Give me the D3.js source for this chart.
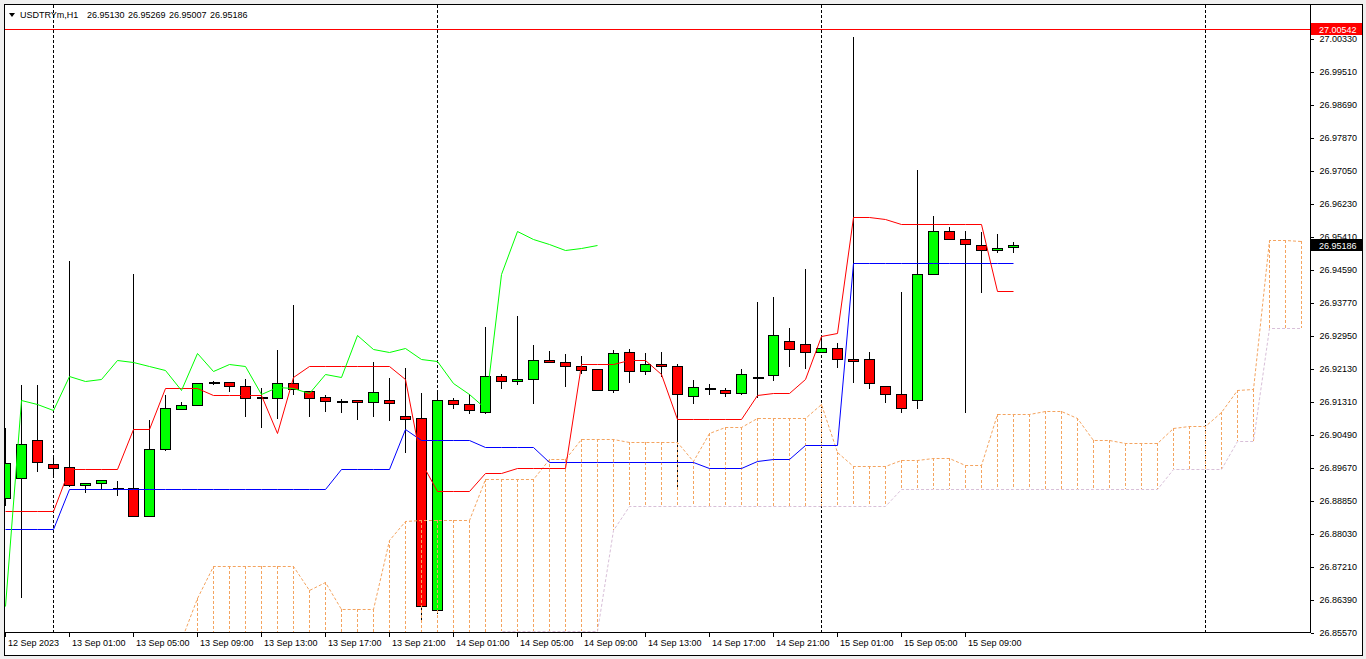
<!DOCTYPE html>
<html><head><meta charset="utf-8">
<script src="https://cdn.jsdelivr.net/npm/d3@7"></script>
<style>
html,body{margin:0;padding:0;background:#f0f0f0;overflow:hidden}
svg{display:block}
text{font-family:"Liberation Sans",Arial,sans-serif;font-size:9px;fill:#000}
</style></head><body>
<svg id="c" width="1366" height="659"></svg>
<script>
// ---------------- DATA ----------------
const symbolTitle = "USDTRYm,H1";
const headerOHLC = ["26.95130","26.95269","26.95007","26.95186"];
const timeLabels = ["12 Sep 2023","13 Sep 01:00","13 Sep 05:00","13 Sep 09:00","13 Sep 13:00","13 Sep 17:00","13 Sep 21:00","14 Sep 01:00","14 Sep 05:00","14 Sep 09:00","14 Sep 13:00","14 Sep 17:00","14 Sep 21:00","15 Sep 01:00","15 Sep 05:00","15 Sep 09:00"];
const timeLabelEvery = 4;               // one label every 4 hourly bars
const priceTicks = ["26.85570","26.86390","26.87210","26.88030","26.88850","26.89670","26.90490","26.91310","26.92130","26.92950","26.93770","26.94590","26.95410","26.96230","26.97050","26.97870","26.98690","26.99510","27.00330"];
const daySeparators = [3, 27, 51, 75];  // bar index of each day start
const redLevel = 27.00542;
const lastPrice = 26.95186;

const open  = [26.88900,26.89397,26.90341,26.89745,26.89670,26.89223,26.89272,26.89160,26.89148,26.88452,26.90117,26.91111,26.91211,26.91770,26.91782,26.91683,26.91397,26.91384,26.91757,26.91558,26.91409,26.91322,26.91335,26.91285,26.91335,26.90937,26.90887,26.86117,26.91335,26.91235,26.91037,26.91931,26.91807,26.91857,26.92329,26.92279,26.92180,26.92105,26.91583,26.92527,26.92055,26.92229,26.92180,26.91434,26.91621,26.91583,26.91509,26.91906,26.91956,26.92801,26.92726,26.92527,26.92627,26.92354,26.92354,26.91683,26.91484,26.91335,26.94466,26.95534,26.95335,26.95186,26.95062,26.95130];
const high  = [26.90639,26.91708,26.91708,26.89894,26.94789,26.89272,26.89347,26.89322,26.94466,26.90838,26.91459,26.91285,26.91757,26.91807,26.91782,26.91857,26.91633,26.92577,26.93695,26.91558,26.91459,26.91360,26.91335,26.92279,26.91881,26.92130,26.91509,26.91583,26.91384,26.91484,26.93149,26.91981,26.93422,26.92701,26.92552,26.92478,26.92428,26.92105,26.92577,26.92602,26.92503,26.92527,26.92229,26.91832,26.91732,26.91633,26.92105,26.93770,26.93894,26.93124,26.94590,26.92900,26.92751,27.00355,26.92527,26.91683,26.94018,26.97050,26.95907,26.95633,26.95534,26.95509,26.95460,26.95269];
const low   = [26.88726,26.86440,26.89571,26.89421,26.89198,26.89049,26.89123,26.88974,26.88452,26.88452,26.90092,26.91111,26.91211,26.91732,26.91558,26.90937,26.90664,26.90887,26.91484,26.90937,26.91061,26.91037,26.90863,26.90937,26.90838,26.90043,26.85868,26.86042,26.91136,26.91012,26.91012,26.91633,26.91732,26.91260,26.92279,26.91683,26.92006,26.91583,26.91534,26.91782,26.91981,26.91931,26.89148,26.91260,26.91484,26.91434,26.91484,26.91409,26.91832,26.92180,26.92130,26.92527,26.92155,26.91782,26.91633,26.91285,26.91037,26.91136,26.94466,26.95335,26.91037,26.94018,26.95012,26.95007];
const close = [26.89757,26.90241,26.89794,26.89645,26.89223,26.89272,26.89347,26.89160,26.88452,26.90117,26.91136,26.91211,26.91757,26.91770,26.91683,26.91384,26.91397,26.91757,26.91608,26.91384,26.91310,26.91322,26.91285,26.91534,26.91260,26.90863,26.86216,26.91335,26.91235,26.91086,26.91931,26.91807,26.91857,26.92329,26.92279,26.92180,26.92080,26.91583,26.92503,26.92055,26.92229,26.92180,26.91484,26.91658,26.91621,26.91509,26.91981,26.91906,26.92950,26.92602,26.92527,26.92627,26.92354,26.92304,26.91757,26.91484,26.91136,26.94466,26.95534,26.95335,26.95211,26.95062,26.95112,26.95186];

const tenkan = [26.88577,26.88577,26.88577,26.88577,26.89620,26.89620,26.89620,26.89620,26.90614,26.90614,26.91621,26.91621,26.91621,26.91459,26.91459,26.91459,26.91459,26.90515,26.91894,26.92180,26.92180,26.92180,26.92180,26.92180,26.92180,26.91869,26.89782,26.89074,26.89074,26.89074,26.89509,26.89509,26.89645,26.89645,26.89645,26.89645,26.92217,26.92217,26.92217,26.92341,26.92341,26.91981,26.90875,26.90875,26.90875,26.90875,26.90875,26.91459,26.91521,26.91521,26.91869,26.92925,26.93000,26.95882,26.95882,26.95820,26.95696,26.95696,26.95696,26.95696,26.95696,26.95696,26.94043,26.94043];
const kijun  = [26.88129,26.88129,26.88129,26.88129,26.89123,26.89123,26.89123,26.89123,26.89123,26.89123,26.89123,26.89123,26.89123,26.89123,26.89123,26.89123,26.89123,26.89123,26.89123,26.89123,26.89123,26.89620,26.89620,26.89620,26.89620,26.90614,26.90329,26.90329,26.90329,26.90329,26.90167,26.90167,26.90167,26.90167,26.89782,26.89782,26.89782,26.89782,26.89782,26.89782,26.89782,26.89782,26.89782,26.89782,26.89645,26.89645,26.89645,26.89819,26.89881,26.89881,26.90229,26.90229,26.90229,26.94751,26.94751,26.94751,26.94751,26.94751,26.94751,26.94751,26.94751,26.94751,26.94751,26.94751];
const chikouShift = 26;   // chikou span = close plotted 26 bars back

const cloudStart = 11;    // bar index of first cloud value
const spanA = [26.85371,26.86415,26.87210,26.87210,26.87210,26.87210,26.87210,26.87210,26.86614,26.86812,26.86142,26.86142,26.86142,26.87856,26.88328,26.88353,26.88353,26.88353,26.88353,26.89372,26.89372,26.89372,26.89372,26.89869,26.89869,26.90372,26.90372,26.90372,26.90291,26.90291,26.90291,26.90291,26.89819,26.90509,26.90652,26.90652,26.90900,26.90900,26.90900,26.90900,26.91242,26.90055,26.89701,26.89701,26.89701,26.89838,26.89838,26.89906,26.89906,26.89714,26.89714,26.90999,26.90999,26.90999,26.91061,26.91061,26.90881,26.90329,26.90329,26.90260,26.90260,26.90260,26.90639,26.90701,26.90701,26.91049,26.91577,26.91614,26.95317,26.95317,26.95286];
const spanB = [26.85300,26.85300,26.85300,26.85300,26.85300,26.85300,26.85300,26.85300,26.85300,26.85300,26.85300,26.85300,26.85300,26.85300,26.85300,26.85300,26.85300,26.85300,26.85300,26.85300,26.85595,26.85595,26.85595,26.85595,26.85595,26.85595,26.85595,26.88105,26.88701,26.88701,26.88701,26.88701,26.88701,26.88701,26.88701,26.88701,26.88701,26.88701,26.88701,26.88701,26.88701,26.88701,26.88701,26.88701,26.88701,26.89123,26.89123,26.89123,26.89123,26.89123,26.89123,26.89123,26.89123,26.89123,26.89123,26.89123,26.89123,26.89123,26.89123,26.89123,26.89123,26.89123,26.89620,26.89620,26.89620,26.89620,26.90316,26.90316,26.93124,26.93124,26.93124];

// ---------------- LAYOUT ----------------
const plot = {l:4, r:1310, t:5, b:632};
const svg = d3.select("#c");
const x = d3.scaleLinear().domain([0, 81]).range([5.5, 5.5 + 16*81]);
const pMin = +priceTicks[0], pMax = +priceTicks[priceTicks.length-1];
const y = d3.scaleLinear().domain([pMin, pMax]).range([632, 38]);
const Y = v => Math.round(y(v));

// window / chart frame
svg.append("rect").attr("x",0).attr("y",0).attr("width",1366).attr("height",659).attr("fill","#f0f0f0");
svg.append("rect").attr("x",4.5).attr("y",4.5).attr("width",1358).attr("height",651)
   .attr("fill","#fff").attr("stroke","#000").attr("stroke-width",1).attr("shape-rendering","crispEdges");

svg.append("defs").append("clipPath").attr("id","clip")
   .append("rect").attr("x",plot.l+1).attr("y",plot.t).attr("width",plot.r-plot.l-1).attr("height",plot.b-plot.t);

const g = svg.append("g").attr("clip-path","url(#clip)").attr("shape-rendering","crispEdges");

// day separators
g.selectAll(".sep").data(daySeparators).join("line")
  .attr("x1",d=>Math.round(x(d))-0.5).attr("x2",d=>Math.round(x(d))-0.5)
  .attr("y1",plot.t).attr("y2",plot.b)
  .attr("stroke","#000").attr("stroke-dasharray","3,2");

// candles
const idx = d3.range(open.length);
const cg = g.append("g");
cg.selectAll(".wick").data(idx).join("line")
  .attr("x1",i=>x(i)).attr("x2",i=>x(i))
  .attr("y1",i=>Y(high[i])).attr("y2",i=>Y(low[i])+1)
  .attr("stroke","#000");
cg.selectAll(".body").data(idx.filter(i=>Math.abs(open[i]-close[i])>0.00002)).join("rect")
  .attr("x",i=>x(i)-5).attr("width",10)
  .attr("y",i=>Y(Math.max(open[i],close[i]))+0.5)
  .attr("height",i=>Math.max(1,Y(Math.min(open[i],close[i]))-Y(Math.max(open[i],close[i]))))
  .attr("fill",i=>close[i]>open[i]?"#00ff00":"#ff0000")
  .attr("stroke","#000");
cg.selectAll(".doji").data(idx.filter(i=>Math.abs(open[i]-close[i])<=0.00002)).join("line")
  .attr("x1",i=>x(i)-5).attr("x2",i=>x(i)+6)
  .attr("y1",i=>Y(open[i])+0.5).attr("y2",i=>Y(open[i])+0.5)
  .attr("stroke","#000").attr("stroke-width",2);

// cloud
const cloudIdx = d3.range(spanA.length);
const hatch = g.append("g");
hatch.selectAll("line").data(cloudIdx).join("line")
  .attr("x1",k=>x(cloudStart+k)).attr("x2",k=>x(cloudStart+k))
  .attr("y1",k=>Y(spanA[k])).attr("y2",k=>Y(spanB[k]))
  .attr("stroke",k=>spanA[k]>=spanB[k]?"#f4a460":"#d8bfd8")
  .attr("stroke-dasharray","3,2");
const sline = (arr) => d3.line().x((d,k)=>x(cloudStart+k)).y(d=>Y(d)+0.5)(arr);
const ga = svg.append("g").attr("clip-path","url(#clip)");
ga.append("path").attr("d",sline(spanB)).attr("fill","none").attr("stroke","#d8bfd8").attr("stroke-dasharray","3,2");
ga.append("path").attr("d",sline(spanA)).attr("fill","none").attr("stroke","#f4a460").attr("stroke-dasharray","3,2");

// ichimoku lines
const ln = d3.line().x((d,i)=>x(i)).y(d=>Y(d)+0.5);
ga.append("path").attr("d",ln(kijun)).attr("fill","none").attr("stroke","#0000ff");
ga.append("path").attr("d",ln(tenkan)).attr("fill","none").attr("stroke","#ff0000");
const chikou = close.slice(chikouShift);
ga.append("path").attr("d",ln(chikou)).attr("fill","none").attr("stroke","#00ff00");

// red horizontal level
g.append("line").attr("x1",plot.l).attr("x2",plot.r).attr("y1",Y(redLevel)+0.5).attr("y2",Y(redLevel)+0.5).attr("stroke","#ff0000");

// axes
const ax = svg.append("g").attr("shape-rendering","crispEdges");
ax.append("line").attr("x1",plot.r+0.5).attr("x2",plot.r+0.5).attr("y1",plot.t).attr("y2",plot.b+1).attr("stroke","#000");
ax.append("line").attr("x1",plot.l).attr("x2",plot.r+1).attr("y1",plot.b+0.5).attr("y2",plot.b+0.5).attr("stroke","#000");

const yAxis = d3.axisRight(y).tickValues(priceTicks.map(Number)).tickFormat(d=>d.toFixed(5)).tickSize(3).tickPadding(6);
const yg = svg.append("g").attr("transform",`translate(${plot.r+0.5},0.5)`).call(yAxis);
yg.select(".domain").remove();
yg.selectAll("text").attr("font-family",null).attr("font-size",null);

const tickIdx = timeLabels.map((t,k)=>k*timeLabelEvery);
const xAxis = d3.axisBottom(x).tickValues(tickIdx).tickFormat((d,k)=>timeLabels[k]).tickSize(4).tickPadding(3);
const xg = svg.append("g").attr("transform",`translate(-1,${plot.b+0.5})`).call(xAxis);
xg.select(".domain").remove();
xg.selectAll("text").attr("text-anchor","start").attr("dx",3).attr("font-family",null).attr("font-size",null);
svg.selectAll(".tick line").attr("shape-rendering","crispEdges");

// price tags
function tag(v, bg){
  const yy = Y(v);
  svg.append("rect").attr("x",plot.r+1).attr("y",yy-6).attr("width",51).attr("height",12).attr("fill",bg);
  svg.append("text").attr("x",plot.r+9).attr("y",yy+3.5).style("fill","#fff").text(v.toFixed(5));
}
tag(redLevel,"#ff0000");
tag(lastPrice,"#000000");

// header
svg.append("path").attr("d","M9,13 L15,13 L12,17 Z").attr("fill","#000");
svg.append("text").attr("x",20).attr("y",18).text(symbolTitle);
headerOHLC.forEach((t,k)=>svg.append("text").attr("x",87+k*41).attr("y",18).text(t));
</script>
</body></html>
